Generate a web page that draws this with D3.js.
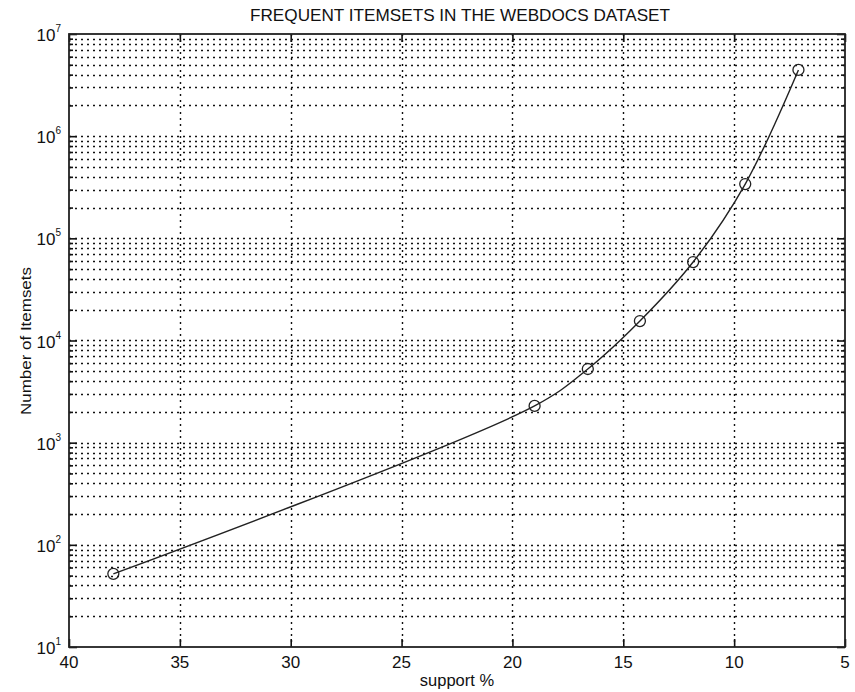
<!DOCTYPE html>
<html>
<head>
<meta charset="utf-8">
<script src="https://cdn.jsdelivr.net/npm/d3@7"></script>
<style>
body { margin: 0; background: #fff; }
text { font-family: "Liberation Sans", Arial, sans-serif; fill: #111; }
</style>
</head>
<body>
<script>
// data
var support = [38, 19, 16.6, 14.25, 11.85, 9.5, 7.1];
var itemsets = [52, 2290, 5260, 15500, 58600, 340000, 4450000];
var xTicks = [40, 35, 30, 25, 20, 15, 10, 5];
var yDecades = [1e1, 1e2, 1e3, 1e4, 1e5, 1e6, 1e7];
var yExponents = ["1", "2", "3", "4", "5", "6", "7"];

var width = 855,
	height = 692;
// plot box (not "top": that one is taken by window.top)
var plotL = 69, plotR = 845, plotT = 34, plotB = 647;

// minor log ticks 2..9 of each decade
var yMinor = [];
yDecades.slice(0, -1).forEach(function(d){
	for (var m = 2; m <= 9; m++) yMinor.push(m * d);
});

var x = d3.scaleLinear().domain([40, 5]).range([plotL, plotR]);
var y = d3.scaleLog().domain([10, 1e7]).range([plotB, plotT]);

var svg = d3.select("body").append("svg")
	.attr("width", width)
	.attr("height", height);

// grid, dotted like matlab
var grid = svg.append("g")
	.attr("stroke", "#111")
	.attr("stroke-width", 1.4)
	.attr("stroke-dasharray", "2,4");

grid.selectAll("line.h").data(yMinor.concat(yDecades.slice(1, -1)))
	.enter().append("line")
	.attr("class", "h")
	.attr("x1", plotL).attr("x2", plotR)
	.attr("y1", function(d){ return Math.round(y(d)) + 0.5; })
	.attr("y2", function(d){ return Math.round(y(d)) + 0.5; });

grid.selectAll("line.v").data(xTicks.slice(1, -1))
	.enter().append("line")
	.attr("class", "v")
	.attr("y1", plotT).attr("y2", plotB)
	.attr("x1", function(d){ return Math.round(x(d)) + 0.5; })
	.attr("x2", function(d){ return Math.round(x(d)) + 0.5; });

// axes (ticks point inward, on all four sides)
svg.append("g")
	.attr("transform", "translate(0," + plotB + ")")
	.call(d3.axisBottom(x).tickValues(xTicks).tickSize(-8).tickSizeOuter(0).tickFormat(""));
svg.append("g")
	.attr("transform", "translate(0," + plotT + ")")
	.call(d3.axisTop(x).tickValues(xTicks).tickSize(-8).tickSizeOuter(0).tickFormat(""));
svg.append("g")
	.attr("transform", "translate(" + plotL + ",0)")
	.call(d3.axisLeft(y).tickValues(yDecades).tickSize(-8).tickSizeOuter(0).tickFormat(""));
svg.append("g")
	.attr("transform", "translate(" + plotL + ",0)")
	.call(d3.axisLeft(y).tickValues(yMinor).tickSize(-4).tickSizeOuter(0).tickFormat(""));
svg.append("g")
	.attr("transform", "translate(" + plotR + ",0)")
	.call(d3.axisRight(y).tickValues(yDecades).tickSize(-8).tickSizeOuter(0).tickFormat(""));
svg.append("g")
	.attr("transform", "translate(" + plotR + ",0)")
	.call(d3.axisRight(y).tickValues(yMinor).tickSize(-4).tickSizeOuter(0).tickFormat(""));

svg.selectAll(".tick line").attr("stroke", "#111").attr("stroke-width", 1.6);
svg.selectAll(".domain").remove();

// box
svg.append("rect")
	.attr("x", plotL).attr("y", plotT)
	.attr("width", plotR - plotL).attr("height", plotB - plotT)
	.attr("fill", "none")
	.attr("stroke", "#222")
	.attr("stroke-width", 1.8);

// x tick labels
svg.selectAll("text.xt").data(xTicks)
	.enter().append("text")
	.attr("class", "xt")
	.attr("x", function(d){ return x(d); })
	.attr("y", 668)
	.attr("text-anchor", "middle")
	.style("font-size", "17px")
	.text(function(d){ return d; });

// y tick labels 10^k
var yl = svg.selectAll("text.yt").data(yDecades)
	.enter().append("text")
	.attr("class", "yt")
	.attr("x", 61)
	.attr("y", function(d){ return y(d) + 7; })
	.attr("text-anchor", "end")
	.style("font-size", "17px");
yl.append("tspan").text("10");
yl.append("tspan")
	.attr("dy", -9)
	.style("font-size", "10px")
	.text(function(d, i){ return yExponents[i]; });

// the curve: almost straight on the long first stretch, smooth after
var pts = support.map(function(s, i){ return [x(s), y(itemsets[i])]; });
svg.append("path")
	.datum(pts)
	.attr("fill", "none")
	.attr("stroke", "#222")
	.attr("stroke-width", 1.4)
	.attr("d", d3.line().curve(d3.curveCatmullRom.alpha(0.5)));

svg.selectAll("circle").data(pts)
	.enter().append("circle")
	.attr("cx", function(d){ return d[0]; })
	.attr("cy", function(d){ return d[1]; })
	.attr("r", 5.5)
	.attr("fill", "none")
	.attr("stroke", "#222")
	.attr("stroke-width", 1.3);

// titles
svg.append("text")
	.attr("x", 460).attr("y", 21)
	.attr("text-anchor", "middle")
	.attr("textLength", 420)
	.attr("lengthAdjust", "spacingAndGlyphs")
	.style("font-size", "17px")
	.text("FREQUENT ITEMSETS IN THE WEBDOCS DATASET");

svg.append("text")
	.attr("x", 457).attr("y", 686)
	.attr("text-anchor", "middle")
	.style("font-size", "16.5px")
	.text("support %");

svg.append("text")
	.attr("transform", "translate(31,341) rotate(-90)")
	.attr("text-anchor", "middle")
	.attr("textLength", 148)
	.attr("lengthAdjust", "spacingAndGlyphs")
	.style("font-size", "15px")
	.text("Number of Itemsets");
</script>
</body>
</html>
